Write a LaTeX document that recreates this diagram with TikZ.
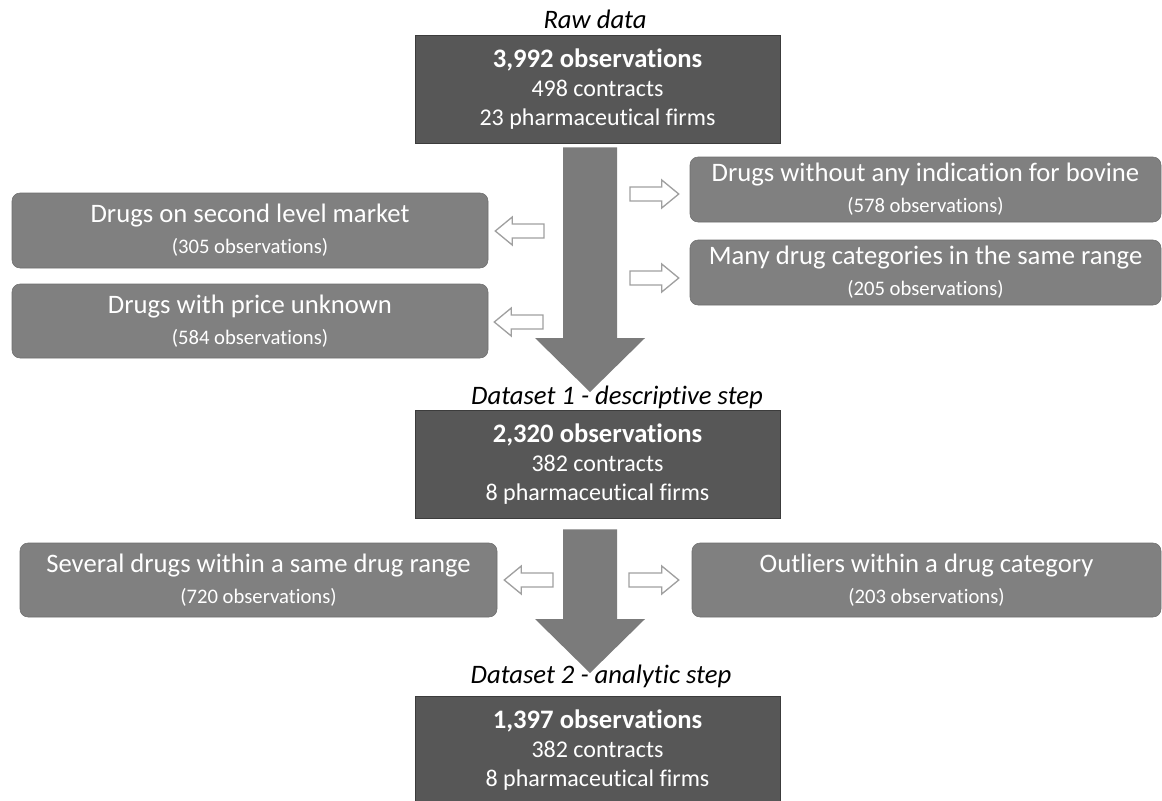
\documentclass[tikz,border=0pt]{standalone}
\usepackage{fontspec}
\setmainfont{Carlito}[RawFeature={-liga;-clig}]
\usetikzlibrary{calc}
\newdimen\pxu \pxu=0.75pt
\definecolor{boxdark}{HTML}{575757}
\definecolor{boxedge}{HTML}{3C3C3C}
\definecolor{boxmid}{HTML}{808080}
\definecolor{midedge}{HTML}{6E6E6E}
\definecolor{arrowgrey}{HTML}{7B7B7B}
\definecolor{hollowedge}{HTML}{A0A0A0}
% fat arrow between two named coordinates (tail, tip)
\newcommand\fatarrow[2]{\fill[bigarrow] ($(#1)+(-27,0)$)--($(#1)+(27,0)$)--($(#2)+(27,-54)$)
   --($(#2)+(55,-54)$)--(#2)--($(#2)+(-55,-54)$)--($(#2)+(-27,-54)$)--cycle;}
% small white arrow, horizontal
\newcommand\thinarrow[2]{\path ($(#2)!17\pxu!(#1)$) coordinate (hb);
   \draw[hollow] ($(#1)+(0,-7)$)--($(hb)+(0,-7)$)--($(hb)+(0,-14)$)--(#2)
   --($(hb)+(0,14)$)--($(hb)+(0,7)$)--($(#1)+(0,7)$)--cycle;}
\begin{document}
\begin{tikzpicture}[x=0.75pt,y=-0.75pt,
      databox/.style={rectangle,fill=boxdark,draw=boxedge,text=white,align=center,
        minimum width=365\pxu,minimum height=108\pxu,
        font=\fontsize{18}{22}\selectfont},
      sidebox/.style={rectangle,rounded corners=8\pxu,fill=boxmid,draw=midedge,text=white,
        align=center,font=\fontsize{20}{23}\selectfont},
      steplabel/.style={font=\fontsize{20}{24}\selectfont\itshape},
      bigarrow/.style={fill=arrowgrey},
      hollow/.style={draw=hollowedge,fill=white,line width=1pt,line join=miter}]
  \useasboundingbox (0,0) rectangle (1162,800);
  \newcommand\obs[1]{\\{\fontsize{15.5}{23}\selectfont (#1 observations)}}
  \newcommand\nobs[1]{{\fontsize{20}{22}\selectfont\bfseries #1 observations}}
  % main datasets
  \node[steplabel](rawlab) at (595,19){Raw data};
  \node[databox](raw) at (597.5,89){\nobs{3,992}\\498 contracts\\23 pharmaceutical firms};
  \node[steplabel](dsalab) at (617,397){Dataset 1 - descriptive step};
  \node[databox](dsa) at (597.5,464){\nobs{2,320}\\382 contracts\\8 pharmaceutical firms};
  \node[steplabel](dsblab) at (601,676){Dataset 2 - analytic step};
  \node[databox](dsb) at (597.5,750){\nobs{1,397}\\382 contracts\\8 pharmaceutical firms};
  % removed observations
  \node[sidebox,minimum width=476\pxu,minimum height=75\pxu](sec) at (250,230.5){Drugs on second level market\obs{305}};
  \node[sidebox,minimum width=476\pxu,minimum height=74\pxu](unk) at (250,321){Drugs with price unknown\obs{584}};
  \node[sidebox,minimum width=471\pxu,minimum height=65\pxu](bov) at (925.5,189.5){Drugs without any indication for bovine\obs{578}};
  \node[sidebox,minimum width=471\pxu,minimum height=65\pxu](cat) at (925.5,272.5){Many drug categories in the same range\obs{205}};
  \node[sidebox,minimum width=477\pxu,minimum height=74\pxu](sev) at (258.5,580){Several drugs within a same drug range\obs{720}};
  \node[sidebox,minimum width=469\pxu,minimum height=74\pxu](out) at (926.5,580){Outliers within a drug category\obs{203}};
  % arrows
  \coordinate(a1) at ($(raw.south)+(-7.5,4)$); \coordinate(a1tip) at (590,392);
  \coordinate(a2) at ($(dsa.south)+(-7.5,11)$); \coordinate(a2tip) at (590,673);
  \fatarrow{a1}{a1tip}
  \fatarrow{a2}{a2tip}
  \coordinate(s1) at (544,231); \coordinate(t1) at ($(sec.east)+(7,0.5)$);
  \coordinate(s2) at (543,322); \coordinate(t2) at ($(unk.east)+(6,1)$);
  \coordinate(s3) at (630,194); \coordinate(t3) at ($(bov.west)+(-11,4.5)$);
  \coordinate(s4) at (630,278); \coordinate(t4) at ($(cat.west)+(-11,5.5)$);
  \coordinate(s5) at (553,580); \coordinate(t5) at ($(sev.east)+(7,0)$);
  \coordinate(s6) at (629,580); \coordinate(t6) at ($(out.west)+(-13,0)$);
  \foreach \s/\t in {s1/t1,s2/t2,s3/t3,s4/t4,s5/t5,s6/t6}{\thinarrow{\s}{\t}}
\end{tikzpicture}
\end{document}
